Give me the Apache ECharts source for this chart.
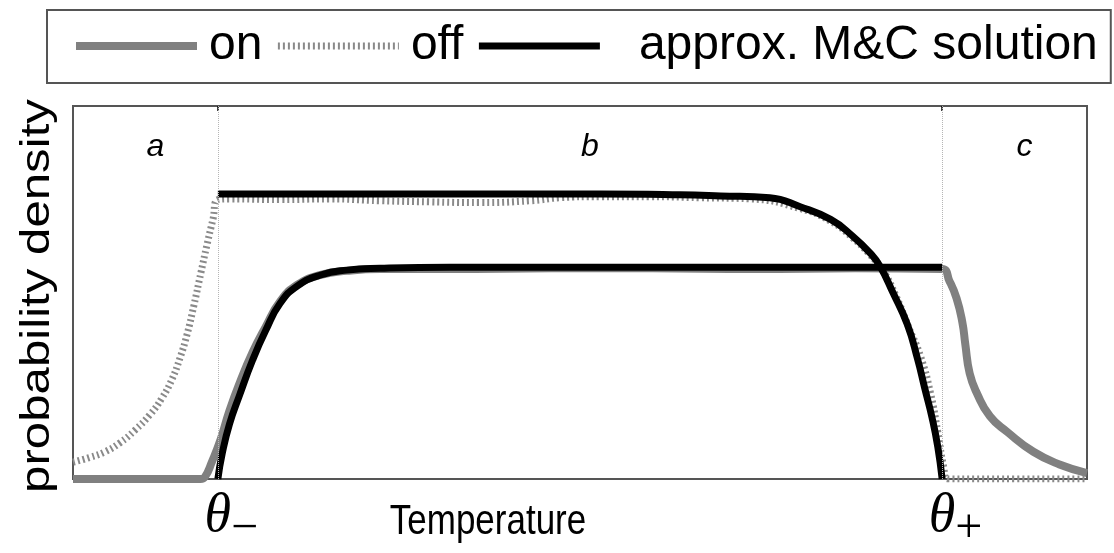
<!DOCTYPE html>
<html>
<head>
<meta charset="utf-8">
<script src="https://cdn.jsdelivr.net/npm/echarts@6/dist/echarts.min.js"></script>
<style>
  html, body { margin: 0; padding: 0; background: #fff; }
  #chart { width: 1114px; height: 553px; }
</style>
</head>
<body>
<div id="chart"></div>
<script>
// Temperature axis runs from 0 to 7; the two switching thresholds sit at 1 and 6.
const thetaTicks = [1, 6];
const thetaSubs = ['\u2212', '+'];
const regionNames = ['a', 'b', 'c'];
const regionBounds = [0, 1, 6, 7];

// "on" state: simulated density
const onT = [0, 0.5, 0.88, 0.91, 0.96, 1.02, 1.08, 1.15, 1.24, 1.33, 1.43, 1.55, 1.71, 1.89, 2.12, 2.6, 3.3, 4.0, 4.7, 5.4, 6.0, 6.05, 6.10, 6.14, 6.16, 6.19, 6.24, 6.33, 6.45, 6.63, 6.81, 7.0];
const onP = [0, 0, 0, 0.005, 0.047, 0.107, 0.183, 0.257, 0.340, 0.408, 0.476, 0.521, 0.547, 0.558, 0.563, 0.563, 0.565, 0.565, 0.563, 0.565, 0.563, 0.531, 0.484, 0.419, 0.361, 0.283, 0.230, 0.168, 0.126, 0.073, 0.039, 0.016];

// "off" state: simulated density
const offT = [0, 0.117, 0.221, 0.324, 0.428, 0.532, 0.614, 0.683, 0.739, 0.787, 0.835, 0.884, 0.925, 0.966, 1.0, 1.08, 1.43, 1.77, 2.12, 2.46, 2.81, 3.16, 3.36, 3.64, 3.98, 4.33, 4.67, 5.02, 5.23, 5.38, 5.50, 5.59, 5.68, 5.77, 5.85, 5.92, 5.97, 6.01, 6.04, 6.5, 7.0];
const offP = [0.045, 0.058, 0.073, 0.097, 0.131, 0.173, 0.217, 0.267, 0.325, 0.387, 0.466, 0.555, 0.628, 0.696, 0.749, 0.751, 0.749, 0.751, 0.746, 0.743, 0.741, 0.746, 0.754, 0.757, 0.757, 0.754, 0.751, 0.725, 0.691, 0.647, 0.602, 0.560, 0.492, 0.406, 0.330, 0.230, 0.126, 0.034, 0, 0, 0];

// approximate solution, "on" branch
const mcOnT = [1.0, 1.03, 1.08, 1.15, 1.24, 1.33, 1.43, 1.55, 1.71, 1.89, 2.12, 2.6, 3.5, 4.5, 5.5, 6.0];
const mcOnP = [0, 0.068, 0.147, 0.225, 0.319, 0.398, 0.471, 0.518, 0.547, 0.560, 0.565, 0.568, 0.568, 0.568, 0.568, 0.568];

// approximate solution, "off" branch
const mcOffT = [1.0, 1.57, 2.26, 2.95, 3.64, 4.19, 4.47, 4.81, 5.02, 5.23, 5.38, 5.50, 5.57, 5.66, 5.76, 5.83, 5.88, 5.93, 5.97, 6.0];
const mcOffP = [0.764, 0.764, 0.764, 0.764, 0.764, 0.762, 0.759, 0.754, 0.730, 0.696, 0.652, 0.607, 0.571, 0.500, 0.414, 0.322, 0.243, 0.165, 0.086, 0];

const pairs = (xs, ys) => xs.map((x, i) => [x, ys[i]]);

const SANS = '"Liberation Sans", Arial, Helvetica, sans-serif';
const SERIF = '"Liberation Serif", "Times New Roman", serif';
const MC = 'approx. M&C solution';

const chart = echarts.init(document.getElementById('chart'), null, { renderer: 'canvas' });

const lineSeries = (name, xs, ys, lineStyle) => ({
  name, type: 'line', xAxisIndex: 0,
  data: pairs(xs, ys),
  symbol: 'none', smooth: 0.5,
  lineStyle,
  itemStyle: { color: lineStyle.color }
});

const onSeries = lineSeries('on', onT, onP, { color: '#808080', width: 8 });
// dotted threshold lines and the a / b / c region captions
onSeries.markLine = {
  silent: true, symbol: 'none', label: { show: false },
  lineStyle: { type: 'dotted', color: '#b5b5b5', width: 1 },
  data: thetaTicks.map(v => ({ xAxis: v }))
};
onSeries.markArea = {
  silent: true,
  itemStyle: { color: 'rgba(0,0,0,0)' },
  label: {
    show: true, position: 'insideTop', distance: 25, offset: [10, 0],
    fontFamily: SANS, fontStyle: 'italic', fontSize: 32, color: '#000'
  },
  data: regionNames.map((n, i) => [{ name: n, xAxis: regionBounds[i] }, { xAxis: regionBounds[i + 1] }])
};

const option = {
  animation: false,
  backgroundColor: '#fff',
  legend: {
    data: [
      { name: 'on' },
      { name: 'off' },
      { name: MC, textStyle: { padding: [0, 0, 0, 34] } }
    ],
    left: 47,
    top: 10,
    width: 1067,
    itemWidth: 121,
    itemHeight: 14,
    itemGap: 12,
    padding: [12, 13, 13, 25],
    borderColor: '#555',
    borderWidth: 2,
    selectedMode: false,
    itemStyle: { opacity: 0 },
    lineStyle: { width: 'inherit' },
    textStyle: { fontSize: 48, fontFamily: SANS, color: '#000', padding: [0, 0, 0, 7] }
  },
  grid: {
    left: 73, top: 106, right: 27, bottom: 65,
    show: true, borderColor: '#555', borderWidth: 2, backgroundColor: 'transparent'
  },
  xAxis: [
    {
      type: 'value', min: 0, max: 7,
      axisLine: { show: false },
      splitLine: { show: false },
      axisTick: { show: true, inside: true, length: 5, customValues: thetaTicks, lineStyle: { color: '#000', width: 1.5 } },
      axisLabel: {
        show: true,
        customValues: thetaTicks,
        margin: 8,
        formatter: v => '{g|}{t|\u03B8}{s|' + thetaSubs[thetaTicks.indexOf(v)] + '}',
        rich: {
          g: { width: 27 },
          t: { fontFamily: SERIF, fontStyle: 'italic', fontSize: 54, color: '#000', padding: [0, 0, 6, 0] },
          s: { fontFamily: SERIF, fontSize: 48, color: '#000', padding: [18, 0, 0, 0] }
        }
      }
    },
    {
      type: 'value', min: 0, max: 7, position: 'top',
      axisLine: { show: false },
      splitLine: { show: false },
      axisLabel: { show: false },
      axisTick: { show: true, inside: true, length: 5, customValues: thetaTicks, lineStyle: { color: '#000', width: 1.5 } }
    }
  ],
  yAxis: {
    type: 'value', min: 0, max: 1,
    axisLine: { show: false }, axisTick: { show: false },
    axisLabel: { show: false }, splitLine: { show: false }
  },
  series: [
    onSeries,
    lineSeries('off', offT, offP, { color: '#8a8a8a', width: 7, type: [2, 3] }),
    lineSeries(MC, mcOnT, mcOnP, { color: '#000', width: 7 }),
    lineSeries(MC, mcOffT, mcOffP, { color: '#000', width: 7 })
  ],
  graphic: [
    {
      type: 'text', x: 38, y: 296, rotation: Math.PI / 2, scaleX: 1.2,
      style: { text: 'probability density', fontFamily: SANS, fontSize: 41, fill: '#000', align: 'center', verticalAlign: 'middle' }
    },
    {
      type: 'text', x: 488, y: 522, scaleY: 1.2,
      style: { text: 'Temperature', fontFamily: SANS, fontSize: 35, fill: '#000', align: 'center', verticalAlign: 'middle' }
    }
  ]
};

chart.setOption(option);
</script>
</body>
</html>
